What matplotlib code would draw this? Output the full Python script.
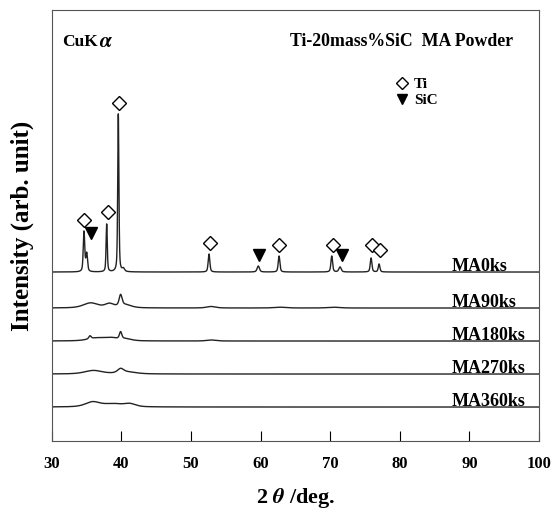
import matplotlib
matplotlib.use('Agg')
import matplotlib.pyplot as plt
from matplotlib.lines import Line2D
import numpy as np

plt.rcParams['font.family'] = ['Liberation Serif', 'DejaVu Serif']
plt.rcParams['font.weight'] = 'bold'
plt.rcParams['mathtext.fontset'] = 'stix'

# sample names and vertical offsets of each pattern (arb. unit)
samples = ['MA0ks', 'MA90ks', 'MA180ks', 'MA270ks', 'MA360ks']
offsets = [169, 133, 100, 67, 34]

# peak lists: (2theta, height, FWHM)
peaks = {
    'MA0ks': [(34.64, 40, 0.25), (35.03, 18, 0.28), (37.90, 48, 0.2), (39.57, 158, 0.2),
              (40.3, 3, 0.4), (52.60, 18, 0.28), (59.68, 6, 0.4), (62.66, 16, 0.28),
              (70.23, 16, 0.28), (71.42, 5, 0.4), (75.88, 14, 0.28), (77.03, 8, 0.28)],
    'MA90ks': [(35.6, 5, 2.5), (38.3, 4, 1.5), (39.9, 11, 0.5), (40.6, 3, 2.0),
               (52.9, 1.5, 1.5), (62.8, 0.8, 2.0), (70.5, 0.8, 2.0)],
    'MA180ks': [(35.5, 3, 0.4), (36.5, 3, 3.0), (38.6, 2.5, 2.0), (39.9, 7, 0.4),
                (40.6, 2, 2.0), (52.9, 1, 1.5)],
    'MA270ks': [(36.0, 3.5, 3.0), (39.9, 4, 1.0), (40.8, 2, 3.0)],
    'MA360ks': [(35.9, 5, 2.5), (38.8, 3, 3.0), (41.2, 3, 2.0)],
}

# marker positions above peaks
ti_x = [34.64, 38.05, 39.71, 52.74, 62.70, 70.42, 75.98, 77.17]
ti_y = [221, 229, 338, 198, 196, 196, 196, 191]
sic_x = [35.65, 59.83, 71.67]
sic_y = [208, 186, 186]

x = np.linspace(30, 100, 4001)


def pattern(peak_list):
    y = np.zeros_like(x)
    for pos, h, w in peak_list:
        g = np.exp(-4 * np.log(2) * ((x - pos) / w) ** 2)
        lor = 1 / (1 + 4 * ((x - pos) / w) ** 2)
        y += h * (0.5 * g + 0.5 * lor)
    return y


fig = plt.figure(figsize=(5.54, 5.16), dpi=100)
ax = fig.add_axes([0.0933, 0.1453, 0.8796, 0.8353])

for name, off in zip(samples, offsets):
    ax.plot(x, pattern(peaks[name]) + off, color='#222222', lw=1.0)
    ax.text(87.5, off + 1.5, name, fontsize=13, fontweight='bold', ha='left', va='baseline')

ax.plot(ti_x, ti_y, 'D', ms=7, mfc='white', mec='black', mew=1.0, ls='none')
ax.plot(sic_x, sic_y, 'v', ms=8, mfc='black', mec='black', ls='none')

handles = [Line2D([], [], marker='D', ms=6.5, mfc='white', mec='black', ls='none', label='Ti'),
           Line2D([], [], marker='v', ms=7, mfc='black', mec='black', ls='none', label='SiC')]
ax.legend(handles=handles, loc='upper left', bbox_to_anchor=(0.675, 0.875), frameon=False,
          handlelength=1.0, handletextpad=0.3, labelspacing=0.15,
          prop={'family': 'Liberation Serif', 'weight': 'bold', 'size': 11})

ax.text(0.021, 0.926, 'CuK', transform=ax.transAxes, fontsize=12.5, fontweight='bold', va='center')
ax.text(0.097, 0.926, r'$\alpha$', transform=ax.transAxes, fontsize=15, va='center')
ax.text(0.49, 0.926, 'Ti-20mass%SiC  MA Powder', transform=ax.transAxes,
        fontsize=12.8, fontweight='bold', va='center')

ax.set_xlim(30, 100)
ax.set_ylim(0, 431)
ax.set_xticks(np.arange(30, 101, 10))
ax.set_yticks([])
ax.tick_params(axis='x', direction='in', length=7, width=0.8, labelsize=12, pad=11)
for lab in ax.get_xticklabels():
    lab.set_fontweight('bold')
for sp in ax.spines.values():
    sp.set_color('#555555')
    sp.set_linewidth(0.8)

ax.set_xlabel(r'2 $\theta$ /deg.', fontsize=16, fontweight='bold', labelpad=10)
ax.set_ylabel('Intensity (arb. unit)', fontsize=18, fontweight='bold', labelpad=13)

fig.savefig('out.png', dpi=100)
